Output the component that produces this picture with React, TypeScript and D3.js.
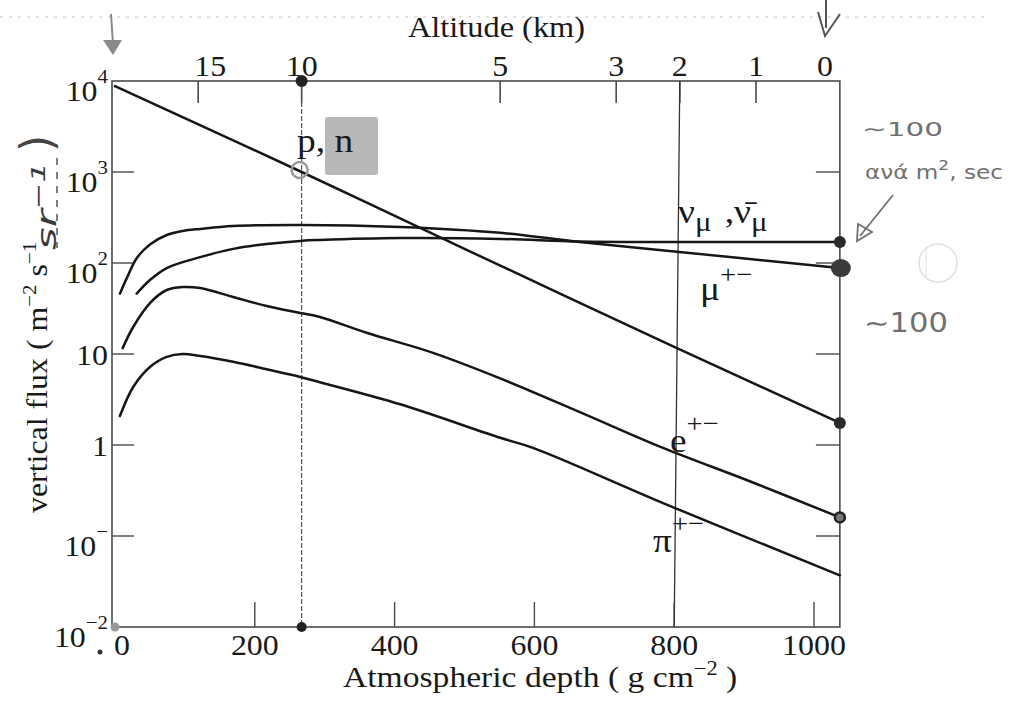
import React from "react";
import * as d3 from "d3";

// ---------- data ----------
const depthTicks = [0, 200, 400, 600, 800, 1000];
const fluxTicks = [1e-2, 1e-1, 1, 10, 1e2, 1e3, 1e4];
const fluxTickBase = ["10", "10", "1", "10", "10", "10", "10"];
const fluxTickExp = ["−2", "−", "", "", "2", "3", "4"];
const altitudeKm = [15, 10, 5, 3, 2, 1, 0];
const altitudeDepth = [119, 267, 551, 717, 808, 917, 1037];

const pnDepth = [0, 267, 500, 800, 1037];
const pnFlux = [8800, 1000, 143, 12, 1.75];
const muDepth = [7, 19, 31, 50, 74, 97, 122, 169, 265, 408, 551, 665, 800, 1037];
const muFlux = [46, 74, 113, 160, 203, 225, 237, 255, 262, 249, 215, 170, 134, 88];
const nuDepth = [31, 50, 74, 122, 169, 217, 265, 293, 408, 551, 665, 800, 1037];
const nuFlux = [46, 65, 88, 116, 143, 162, 175, 179, 188, 184, 172, 170, 170];
const eDepth = [11, 26, 50, 74, 97, 122, 169, 217, 265, 293, 361, 455, 551, 665, 784, 908, 1037];
const eFlux = [11.6, 19.8, 36.3, 50.5, 54.5, 53, 42.3, 33.7, 28.2, 25.5, 17, 10.3, 5.4, 2.3, 0.93, 0.4, 0.16];
const piDepth = [7, 26, 50, 74, 97, 122, 169, 217, 265, 293, 408, 551, 598, 790, 1037];
const piFlux = [2.08, 4.34, 7.2, 9.3, 10, 9.5, 8.2, 6.8, 5.6, 4.9, 2.8, 1.2, 0.93, 0.22, 0.037];

const depthMin = -4.3;
const depthMax = 1037;

const SERIF = "'Liberation Serif', 'Times New Roman', serif";
const HAND = "'DejaVu Sans', sans-serif";

function zip(a: number[], b: number[]): [number, number][] {
  return a.map((v, i) => [v, b[i]] as [number, number]);
}

export default function App() {
  const x = d3.scaleLinear().domain([0, 1000]).range([115, 814]);
  const y = d3.scaleLog().domain([1e-2, 1e4]).range([627, 81]);
  const L = x(depthMin);
  const R = x(depthMax);
  const T = y(1e4);
  const B = y(1e-2);

  const line = d3
    .line<[number, number]>()
    .x((d) => x(d[0]))
    .y((d) => y(d[1]))
    .curve(d3.curveCatmullRom.alpha(0.5));

  const series = [
    zip(pnDepth, pnFlux),
    zip(muDepth, muFlux),
    zip(nuDepth, nuFlux),
    zip(eDepth, eFlux),
    zip(piDepth, piFlux),
  ];

  const st = (px: number, py: number) => `translate(${px},${py}) scale(1.1,1)`;
  const altDx: Record<number, number> = { 15: 12, 0: -15 };

  const last = (a: number[]) => a[a.length - 1];

  return (
    <svg
      width={1010}
      height={708}
      style={{ position: "absolute", left: 0, top: 0, background: "#fff" }}
      fontFamily={SERIF}
    >
      <rect x={0} y={0} width={1010} height={708} fill="#fff" />
      {/* scan artefact dotted line */}
      <line x1={0} x2={985} y1={17} y2={17} stroke="#c4c4c4" strokeWidth={1.2} strokeDasharray="3 6" />

      {/* highlighter box */}
      <rect x={325} y={117} width={53} height={58} fill="#ababab" opacity={0.85} rx={3} />

      {/* frame */}
      <rect x={L} y={T} width={R - L} height={B - T} fill="none" stroke="#4a4a4a" strokeWidth={1.6} />

      {/* left & right ticks */}
      {fluxTicks.slice(1, -1).map((t, i) => (
        <g key={"yt" + i}>
          <line x1={L} x2={L + 22} y1={y(t)} y2={y(t)} stroke="#4a4a4a" strokeWidth={1.4} />
          <line x1={R - 24} x2={R} y1={y(t)} y2={y(t)} stroke="#4a4a4a" strokeWidth={1.4} />
        </g>
      ))}
      {/* bottom ticks */}
      {depthTicks.slice(1).map((t, i) => (
        <line key={"xt" + i} x1={x(t)} x2={x(t)} y1={B} y2={B - 25} stroke="#4a4a4a" strokeWidth={1.4} />
      ))}
      {/* top (altitude) ticks */}
      {altitudeDepth.slice(0, -1).map((d, i) => (
        <line key={"at" + i} x1={x(d)} x2={x(d)} y1={T} y2={T + 22} stroke="#4a4a4a" strokeWidth={1.6} />
      ))}

      {/* vertical reference lines */}
      <line x1={x(altitudeDepth[1])} x2={x(altitudeDepth[1])} y1={T} y2={B} stroke="#555" strokeWidth={1.2} strokeDasharray="5 2" />
      <line x1={x(altitudeDepth[4])} x2={x(depthTicks[4])} y1={T} y2={B} stroke="#333" strokeWidth={1.3} />

      {/* curves */}
      {series.map((s, i) => (
        <path key={"s" + i} d={line(s) || ""} fill="none" stroke="#161616" strokeWidth={2.5} strokeLinecap="round" />
      ))}

      {/* markers */}
      <circle cx={x(altitudeDepth[1])} cy={T} r={6} fill="#222" />
      <circle cx={x(altitudeDepth[1])} cy={B} r={5} fill="#222" />
      <circle cx={x(altitudeDepth[1]) - 2} cy={y(pnFlux[1]) - 2} r={8} fill="none" stroke="#9a9a9a" strokeWidth={2.5} />
      <circle cx={R} cy={y(last(nuFlux))} r={6} fill="#2a2a2a" />
      <ellipse cx={R + 1} cy={y(last(muFlux))} rx={10} ry={9} fill="#3a3a3a" />
      <circle cx={R} cy={y(last(pnFlux))} r={6} fill="#2a2a2a" />
      <circle cx={R} cy={y(last(eFlux))} r={5} fill="#777" stroke="#222" strokeWidth={2.5} />
      <circle cx={L + 3} cy={B} r={4.5} fill="#999" />
      <circle cx={100} cy={652} r={2.5} fill="#333" />

      {/* y tick labels */}
      {fluxTicks.map((t, i) => (
        <text
          key={"yl" + i}
          transform={st(108, y(t) + (fluxTickExp[i] ? 20 : 11))}
          fontSize={29}
          textAnchor="end"
          fill="#1a1a1a"
        >
          {fluxTickBase[i]}
          {fluxTickExp[i] ? (
            <tspan dy={-18} fontSize={19}>
              {fluxTickExp[i]}
            </tspan>
          ) : null}
        </text>
      ))}

      {/* bottom tick labels */}
      {depthTicks.map((t, i) => (
        <text key={"xl" + i} transform={st(x(t) + (t === 0 ? 7 : 0), 655)} fontSize={29} textAnchor="middle" fill="#1a1a1a">
          {t}
        </text>
      ))}
      {/* top tick labels */}
      {altitudeKm.map((a, i) => (
        <text key={"al" + i} transform={st(x(altitudeDepth[i]) + (altDx[a] || 0), 76)} fontSize={29} textAnchor="middle" fill="#1a1a1a">
          {a}
        </text>
      ))}

      {/* axis titles */}
      <text x={408} y={37} fontSize={30} textLength={177} lengthAdjust="spacingAndGlyphs" fill="#1a1a1a">
        Altitude (km)
      </text>
      <text x={343} y={687} fontSize={30} fill="#1a1a1a" transform="translate(343,687) scale(1.12,1) translate(-343,-687)">
        Atmospheric depth  ( g cm<tspan dy={-12} fontSize={20}>−2</tspan>
        <tspan dy={12}> )</tspan>
      </text>
      <text transform="translate(47,513) rotate(-90) scale(1.1,1)" fontSize={29} fill="#1a1a1a">
        vertical flux ( m<tspan dy={-11} fontSize={19}>−2</tspan>
        <tspan dy={11}> s</tspan>
        <tspan dy={-11} fontSize={19}>−1</tspan>
      </text>
      {/* handwritten additions */}
      <text transform="translate(56,250) rotate(-90)" fontSize={27} fontStyle="italic" fill="#3a3a3a" fontFamily={HAND} textLength={88} lengthAdjust="spacingAndGlyphs">
        sr<tspan dy={-11} fontSize={20}>−1</tspan>
      </text>
      <line x1={57} x2={57} y1={158} y2={248} stroke="#555" strokeWidth={1.5} strokeDasharray="7 7" />
      <text transform="translate(52,152) rotate(-90)" fontSize={44} fill="#444" fontFamily={HAND}>
        )
      </text>

      {/* series labels */}
      <text transform={st(297, 152)} fontSize={34} fill="#1a1a1a">p, n</text>
      <text transform={st(678, 223)} fontSize={34} fill="#1a1a1a">
        ν<tspan dy={8} fontSize={28}>μ</tspan>
        <tspan dy={-8} dx={12}>,ν̄</tspan>
        <tspan dy={8} fontSize={28}>μ</tspan>
      </text>
      <text transform={st(700, 300)} fontSize={34} fill="#1a1a1a">
        μ<tspan dy={-17} fontSize={26}>+−</tspan>
      </text>
      <text transform={st(670, 452)} fontSize={34} fill="#1a1a1a">
        e<tspan dy={-20} fontSize={26}>+−</tspan>
      </text>
      <text transform={st(653, 552)} fontSize={34} fill="#1a1a1a">
        π<tspan dy={-20} fontSize={26}>+−</tspan>
      </text>

      {/* pencil notes */}
      <g fill="#707070" fontFamily={HAND}>
        <text x={862} y={136} fontSize={20} textLength={81} lengthAdjust="spacingAndGlyphs">∼100</text>
        <text x={865} y={179} fontSize={19} textLength={138} lengthAdjust="spacingAndGlyphs">
          ανά m<tspan dy={-9} fontSize={14}>2</tspan>
          <tspan dy={9}>, sec</tspan>
        </text>
        <text x={864} y={332} fontSize={26} textLength={84} lengthAdjust="spacingAndGlyphs">∼100</text>
      </g>
      <g stroke="#707070" strokeWidth={1.8} fill="none">
        <line x1={893} y1={195} x2={860} y2={236} />
        <path d="M857,241 L858,224 L872,232 Z" />
      </g>
      <circle cx={938} cy={263} r={19} fill="none" stroke="#e0e0e0" strokeWidth={1.5} />
      <line x1={926} x2={926} y1={247} y2={279} stroke="#e4e4e4" strokeWidth={1.2} />

      {/* arrows at top */}
      <line x1={111} y1={14} x2={113} y2={44} stroke="#8a8a8a" strokeWidth={2} />
      <path d="M103,40 L122,40 L113,55 Z" fill="#8a8a8a" />
      <g stroke="#555" strokeWidth={2} fill="none">
        <line x1={826} y1={0} x2={826} y2={28} />
        <path d="M818,12 L825,36 L840,14" />
      </g>
    </svg>
  );
}
